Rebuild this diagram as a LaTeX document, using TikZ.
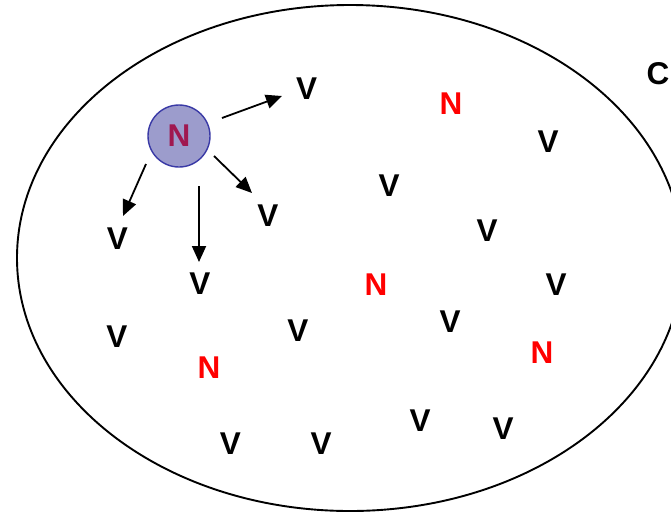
\documentclass[tikz,border=0pt]{standalone}
\usepackage{fontspec}
\setmainfont{Liberation Sans}
\usetikzlibrary{arrows.meta}
\definecolor{circfill}{HTML}{9C9CCC}
\definecolor{circline}{HTML}{3A3AA6}
\definecolor{ntext}{HTML}{A01850}
\tikzset{
  lab/.style={inner sep=0pt, font=\bfseries\fontsize{31.5}{31.5}\selectfont},
  vv/.style={lab, text=black},
  nn/.style={lab, text=red},
  arr/.style={line width=1.8pt, -{Triangle[length=16pt,width=14pt]}},
}
\begin{document}
\begin{tikzpicture}[x=1pt,y=-1pt]
\clip (0,0) rectangle (671,512);
\fill[white] (0,0) rectangle (671,512);
\draw[line width=1.9pt] (350,258) ellipse [x radius=333, y radius=253];
\node[circle, minimum size=62pt, inner sep=0pt, fill=circfill, draw=circline, line width=1.4pt,
      text=ntext, font=\bfseries\fontsize{31.5}{31.5}\selectfont] (src) at (179,136) {N};
\node[lab] (c) at (658,74) {C};
% V nodes
\node[vv] (v1) at (306.5,88.5) {V};
\node[vv] (v2) at (548,141.5) {V};
\node[vv] (v3) at (389,186) {V};
\node[vv] (v4) at (268,216) {V};
\node[vv] (v5) at (487,231) {V};
\node[vv] (v6) at (117.5,239) {V};
\node[vv] (v7) at (200,284) {V};
\node[vv] (v8) at (556,285) {V};
\node[vv] (v9) at (117,337) {V};
\node[vv] (v10) at (298,331) {V};
\node[vv] (v11) at (450,322) {V};
\node[vv] (v12) at (230.5,443.5) {V};
\node[vv] (v13) at (321,443.5) {V};
\node[vv] (v14) at (420,420.5) {V};
\node[vv] (v15) at (503,428.5) {V};
% red N nodes
\node[nn] (n1) at (451,103.5) {N};
\node[nn] (n2) at (376,285) {N};
\node[nn] (n3) at (542,353) {N};
\node[nn] (n4) at (209,368) {N};
% arrow end points
\coordinate (s1) at (222,118); \coordinate (t1) at (282,96);
\coordinate (s2) at (146,164); \coordinate (t2) at (123,216);
\coordinate (s3) at (199,186); \coordinate (t3) at (199,262);
\coordinate (s4) at (214,156); \coordinate (t4) at (252,193);
\draw[arr] (s1) -- (t1);
\draw[arr] (s2) -- (t2);
\draw[arr] (s3) -- (t3);
\draw[arr] (s4) -- (t4);
\end{tikzpicture}
\end{document}
